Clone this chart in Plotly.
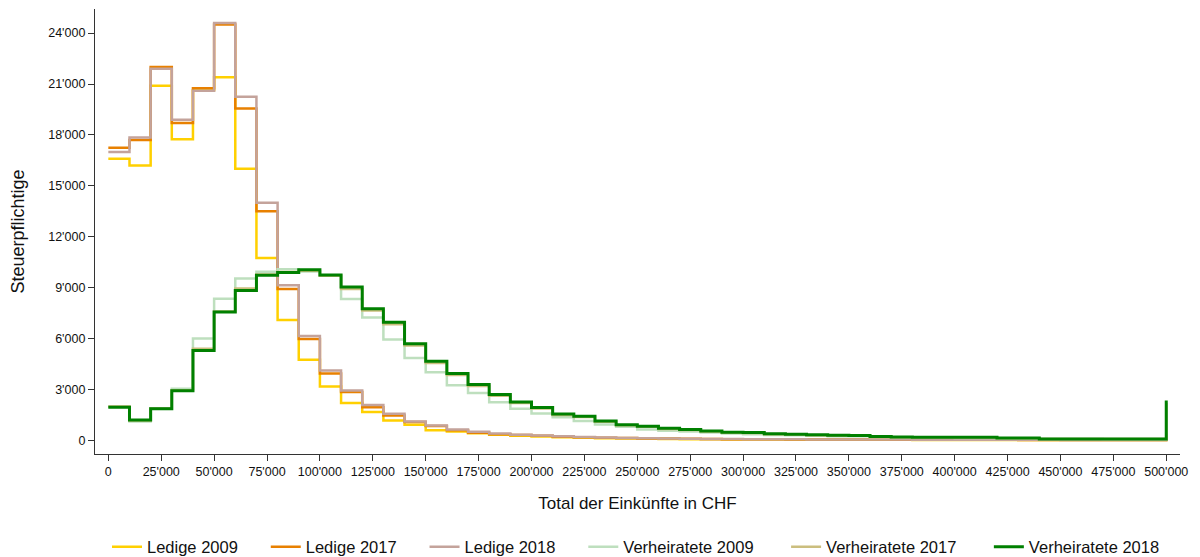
import plotly.graph_objects as go

# Bin lower edges (CHF); last point = 500'000+ (open-ended class)
bins = [i * 10000 for i in range(51)]

ledige_2009 = [16600, 16200, 20900, 17750, 20650, 21400, 16000, 10750, 7100, 4750,
               3180, 2200, 1670, 1180, 920, 600, 520, 420, 340, 280,
               230, 190, 160, 130, 110, 95, 85, 75, 65, 60,
               55, 50, 45, 42, 40, 38, 35, 33, 31, 30,
               29, 28, 27, 26, 25, 24, 23, 22, 21, 20, 300]
ledige_2017 = [17250, 17700, 22000, 18700, 20750, 24500, 19550, 13500, 8920, 5980,
               3950, 2860, 1960, 1470, 1080, 850, 600, 450, 370, 320,
               270, 220, 190, 160, 140, 120, 110, 95, 85, 75,
               70, 65, 60, 55, 52, 50, 47, 45, 42, 40,
               38, 36, 34, 32, 30, 29, 28, 27, 26, 25, 400]
ledige_2018 = [17000, 17850, 21900, 18900, 20600, 24600, 20250, 14000, 9140, 6150,
               4120, 2940, 2080, 1570, 1120, 880, 650, 510, 410, 340,
               290, 240, 200, 170, 150, 130, 115, 100, 90, 80,
               75, 70, 65, 60, 56, 53, 50, 47, 45, 43,
               41, 39, 37, 35, 33, 31, 30, 29, 28, 27, 450]
verh_2009 = [2000, 1120, 1900, 3040, 6000, 8350, 9540, 9940, 10080, 9950,
             9700, 8330, 7250, 5940, 4860, 4020, 3250, 2800, 2250, 1860,
             1590, 1370, 1140, 940, 800, 650, 570, 520, 470, 410,
             370, 320, 300, 270, 250, 240, 200, 180, 170, 160,
             150, 140, 120, 110, 90, 85, 80, 75, 70, 70, 1800]
verh_2017 = [2000, 1180, 1880, 2950, 5400, 7600, 8950, 9780, 9930, 10000,
             9700, 8920, 7650, 6850, 5600, 4560, 3850, 3200, 2630, 2200,
             1880, 1500, 1380, 1100, 890, 800, 680, 620, 520, 450,
             440, 370, 350, 310, 280, 270, 215, 185, 175, 175,
             175, 165, 135, 125, 85, 85, 85, 85, 85, 85, 2200]
verh_2018 = [1960, 1200, 1860, 2920, 5300, 7570, 8840, 9730, 9900, 10050,
             9750, 9040, 7760, 6960, 5700, 4670, 3940, 3290, 2700, 2270,
             1940, 1550, 1430, 1140, 920, 840, 710, 650, 550, 480,
             470, 390, 370, 330, 300, 290, 230, 200, 190, 190,
             190, 180, 140, 140, 90, 90, 90, 90, 90, 90, 2350]

series_names = ["Ledige 2009", "Ledige 2017", "Ledige 2018",
                "Verheiratete 2009", "Verheiratete 2017", "Verheiratete 2018"]
series_values = [ledige_2009, ledige_2017, ledige_2018, verh_2009, verh_2017, verh_2018]
series_colors = ["#FFD000", "#E88000", "#C4A39B", "#BEDFBE", "#CBBE7E", "#008000"]
series_widths = [2.5, 2.5, 2.5, 2.5, 2.5, 3]

x_tickvals = [i * 25000 for i in range(21)]
x_ticktext = ["0" if v == 0 else f"{v // 1000}'000" for v in x_tickvals]
y_tickvals = [i * 3000 for i in range(9)]
y_ticktext = ["0" if v == 0 else f"{v // 1000}'000" for v in y_tickvals]

FONT = "Arial, Liberation Sans, sans-serif"
PADS = ["\u00a0" * 5, "\u00a0" * 5, "\u00a0" * 5, "\u00a0" * 6, "\u00a0" * 6, ""]  # legend spacing

fig = go.Figure()
for name, vals, col, w, pad in zip(series_names, series_values, series_colors, series_widths, PADS):
    fig.add_trace(go.Scatter(x=bins, y=vals, name=name + pad, mode="lines",
                             line=dict(shape="hv", color=col, width=w)))

fig.update_layout(
    width=1200, height=557,
    margin=dict(l=95, r=20, t=9, b=103, autoexpand=False),
    paper_bgcolor="white", plot_bgcolor="white",
    font=dict(family=FONT, color="#111"),
    showlegend=True,
    legend=dict(orientation="h", x=(107 - 95) / 1085, xanchor="left",
                yref="container", y=1 - 547 / 557, yanchor="middle",
                font=dict(size=16.5, family=FONT, color="#111"), traceorder="normal"),
    xaxis=dict(range=[-6300, 506500], tickvals=x_tickvals, ticktext=x_ticktext, automargin=False,
               showgrid=False, zeroline=False, showline=True, linecolor="#333", linewidth=1.3,
               ticks="outside", ticklen=6, tickcolor="#333", tickwidth=1.3,
               tickfont=dict(size=12.5, family=FONT, color="#111"),
               title=dict(text="Total der Einkünfte in CHF", font=dict(size=17, family=FONT, color="#111"),
                          standoff=18)),
    yaxis=dict(range=[-800, 25420], tickvals=y_tickvals, ticktext=y_ticktext, automargin=False,
               showgrid=False, zeroline=False, showline=True, linecolor="#333", linewidth=1.3,
               ticks="outside", ticklen=6, tickcolor="#333", tickwidth=1.3,
               tickfont=dict(size=12.5, family=FONT, color="#111"),
               title=dict(text="Steuerpflichtige", font=dict(size=18, family=FONT, color="#111"),
                          standoff=18)),
)

fig.write_html("out.html", config={"displayModeBar": False},
               post_script="document.body.style.margin='0';document.body.style.padding='0';"
                           "document.body.style.overflow='hidden';")
